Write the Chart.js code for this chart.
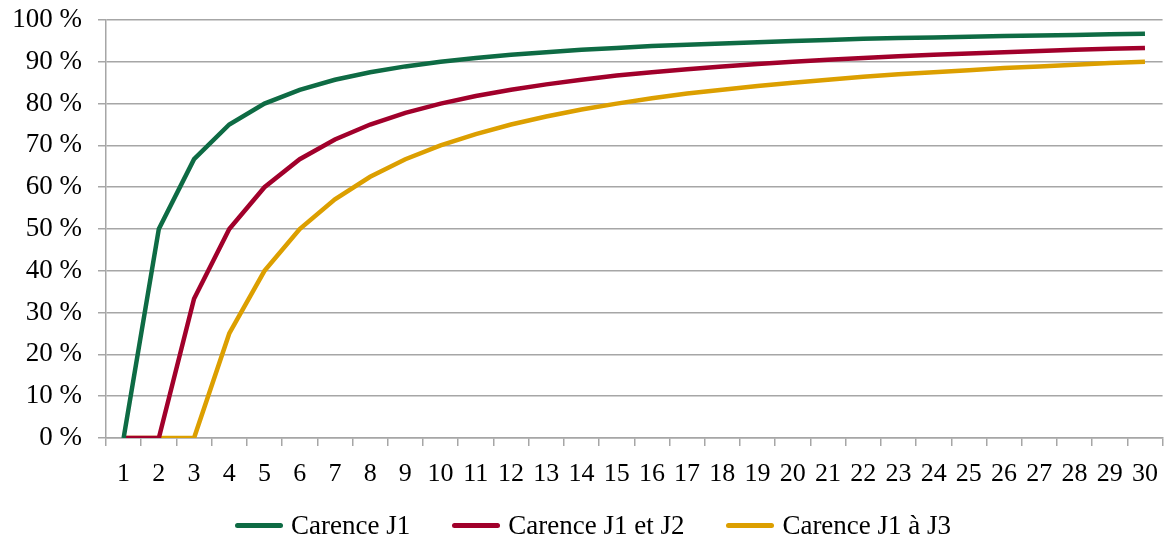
<!DOCTYPE html>
<html>
<head>
<meta charset="utf-8">
<script src="https://cdn.jsdelivr.net/npm/chart.js"></script>
<style>
  html, body { margin: 0; padding: 0; background: #fff; }
  #wrap { position: relative; width: 1171px; height: 543px; }
  #legend {
    position: absolute; left: 235px; top: 507px; height: 36px;
    display: flex; align-items: center; gap: 42px;
    font-family: "Liberation Serif", "DejaVu Serif", serif; font-size: 27px; color: #000;
  }
  .item { display: flex; align-items: center; gap: 8px; white-space: nowrap; }
  .swatch { display: inline-block; width: 48px; height: 5px; border-radius: 3px; }
</style>
</head>
<body>
<div id="wrap">
  <canvas id="chart"></canvas>
  <div id="legend"></div>
</div>
<script>
// days 1..30
const days = ['1','2','3','4','5','6','7','8','9','10','11','12','13','14','15',
              '16','17','18','19','20','21','22','23','24','25','26','27','28','29','30'];

// share of coverage (%)
const carenceJ1 = [0, 50, 66.7, 75, 80, 83.3, 85.7, 87.5, 88.9, 90, 90.9, 91.7, 92.3, 92.9, 93.3,
                   93.8, 94.1, 94.4, 94.7, 95, 95.2, 95.5, 95.7, 95.8, 96, 96.2, 96.3, 96.4, 96.6, 96.7];
const carenceJ1J2 = [0, 0, 33.3, 50, 60, 66.7, 71.4, 75, 77.8, 80, 81.8, 83.3, 84.6, 85.7, 86.7,
                     87.5, 88.2, 88.9, 89.5, 90, 90.5, 90.9, 91.3, 91.7, 92, 92.3, 92.6, 92.9, 93.1, 93.3];
const carenceJ1J3 = [0, 0, 0, 25, 40, 50, 57.1, 62.5, 66.7, 70, 72.7, 75, 76.9, 78.6, 80,
                     81.3, 82.4, 83.3, 84.2, 85, 85.7, 86.4, 87, 87.5, 88, 88.5, 88.9, 89.3, 89.7, 90];

const seriesNames = ['Carence J1', 'Carence J1 et J2', 'Carence J1 à J3'];
const seriesColors = ['#0e6b44', '#a1002b', '#dc9f00'];

const fontFamily = '"Liberation Serif", "DejaVu Serif", serif';
const axisGray = '#a6a6a6';

const datasets = [carenceJ1, carenceJ1J2, carenceJ1J3].map((vals, i) => ({
    label: seriesNames[i],
    data: vals,
    borderColor: seriesColors[i],
    backgroundColor: seriesColors[i],
    borderWidth: 4.5,
    pointRadius: 0,
    tension: 0,
    fill: false
}));

const chart = new Chart(document.getElementById('chart'), {
    type: 'line',
    data: { labels: days, datasets: datasets },
    options: {
        responsive: true,
        maintainAspectRatio: false,
        animation: false,
        layout: { padding: { left: 0, right: 2, top: 20, bottom: 0 } },
        plugins: {
            legend: { display: false },
            tooltip: { enabled: false }
        },
        scales: {
            x: {
                offset: true,
                afterFit: (scale) => { scale.height = 105; },
                grid: {
                    offset: true,
                    drawOnChartArea: false,
                    drawTicks: true,
                    tickLength: 8,
                    color: axisGray,
                    lineWidth: 1.5
                },
                border: { color: axisGray, width: 1.5 },
                ticks: {
                    color: '#000',
                    font: { family: fontFamily, size: 26 },
                    padding: 13,
                    maxRotation: 0,
                    autoSkip: false
                }
            },
            y: {
                min: 0,
                max: 100,
                afterFit: (scale) => { scale.width = 106; scale.paddingTop = 0; scale.paddingBottom = 0; },
                grid: {
                    color: axisGray,
                    lineWidth: 1.5,
                    tickLength: 8
                },
                border: { color: axisGray, width: 1.5 },
                ticks: {
                    stepSize: 10,
                    color: '#000',
                    font: { family: fontFamily, size: 27 },
                    padding: 16,
                    callback: (v) => v + ' %'
                }
            }
        }
    }
});

// legend built from the chart's datasets
const legend = document.getElementById('legend');
chart.data.datasets.forEach(ds => {
    const item = document.createElement('div');
    item.className = 'item';
    const sw = document.createElement('span');
    sw.className = 'swatch';
    sw.style.background = ds.borderColor;
    const txt = document.createElement('span');
    txt.textContent = ds.label;
    item.appendChild(sw);
    item.appendChild(txt);
    legend.appendChild(item);
});
</script>
</body>
</html>
